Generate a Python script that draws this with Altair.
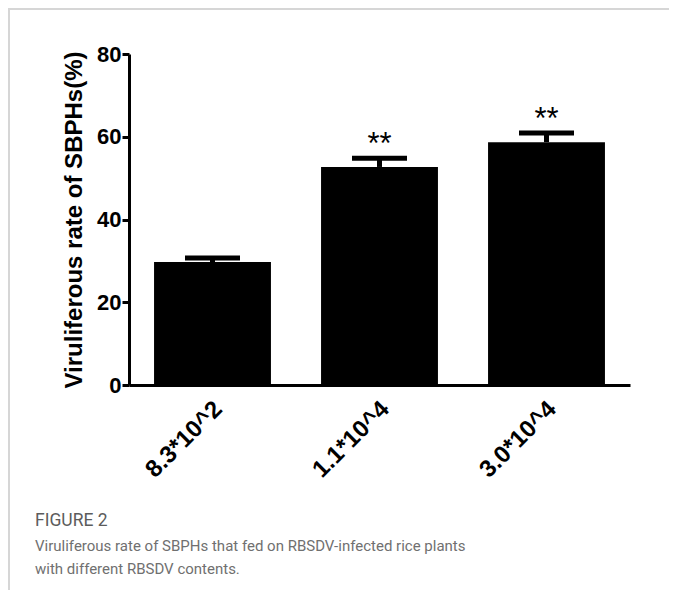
import altair as alt
import pandas as pd

# data
doses = ["8.3*10^2", "1.1*10^4", "3.0*10^4"]
means = [29.7, 52.7, 58.7]
sems = [1.0, 2.1, 2.2]
marks = ["", "**", "**"]
y_ticks = [0, 20, 40, 60, 80]

y_title = "Viruliferous rate of SBPHs(%)"
fig_label = "FIGURE 2"
caption_lines = [
    "Viruliferous rate of SBPHs that fed on RBSDV-infected rice plants",
    "with different RBSDV contents.",
]

df = pd.DataFrame({
    "dose": doses,
    "mean": means,
    "upper": [m + s for m, s in zip(means, sems)],
    "sig": marks,
})

W, H = 501, 331

xenc = alt.X(
    "dose:N",
    sort=doses,
    scale=alt.Scale(paddingInner=0.3, paddingOuter=0.15),
    axis=alt.Axis(
        title="",
        ticks=False,
        tickSize=0,
        domainColor="black",
        domainWidth=3,
        labelAngle=-45,
        labelAlign="right",
        labelBaseline="middle",
        labelFont="Liberation Sans",
        labelFontWeight="bold",
        labelFontSize=24,
        labelColor="black",
        labelPadding=20,
        labelOffset=6,
    ),
)

yscale = alt.Scale(domain=[0, 80], nice=False)
yaxis = alt.Axis(
    title=y_title,
    values=y_ticks,
    grid=False,
    domainColor="black",
    domainWidth=3,
    tickColor="black",
    tickWidth=3,
    tickSize=7,
    labelFont="Liberation Sans",
    labelFontWeight="bold",
    labelFontSize=22,
    labelColor="black",
    labelPadding=1,
    titleFont="Liberation Sans",
    titleFontWeight="bold",
    titleFontSize=24,
    titleColor="black",
    titlePadding=10,
)

base = alt.Chart(df).encode(x=xenc)

bars = base.mark_bar(color="black").encode(
    y=alt.Y("mean:Q", scale=yscale, axis=yaxis)
)
stems = base.mark_rule(color="black", strokeWidth=5).encode(
    y=alt.Y("mean:Q", scale=yscale, axis=yaxis), y2="upper:Q"
)
caps = base.mark_tick(color="black", size=55, thickness=5, opacity=1).encode(
    y=alt.Y("upper:Q", scale=yscale, axis=yaxis)
)
stars = base.mark_text(
    font="Liberation Sans", fontSize=31, color="black", baseline="alphabetic", dy=-4
).encode(y=alt.Y("upper:Q", scale=yscale, axis=yaxis), text="sig:N")

one = pd.DataFrame({"k": [0]})
frame = alt.Chart(one).mark_rect(
    fill="transparent", stroke="#d6d6d6", strokeWidth=2
).encode(
    x=alt.value(-120), x2=alt.value(600), y=alt.value(-45), y2=alt.value(600)
)

fig_text = alt.Chart(pd.DataFrame({"t": [fig_label]})).mark_text(
    font="Roboto", fontSize=17.5, color="#5c5c5c", align="left", baseline="alphabetic"
).encode(x=alt.value(-94), y=alt.value(472), text="t:N")

cap_text = alt.Chart(pd.DataFrame({"t": ["\n".join(caption_lines)]})).mark_text(
    font="Roboto", fontSize=15, color="#707070", align="left",
    baseline="alphabetic", lineBreak="\n", lineHeight=22.5
).encode(x=alt.value(-94), y=alt.value(497), text="t:N")

chart = alt.layer(frame, bars, stems, caps, stars, fig_text, cap_text).properties(
    width=W,
    height=H,
    autosize=alt.AutoSizeParams(type="none"),
    padding={"left": 121, "top": 46, "right": 39, "bottom": 205},
).configure(background="white").configure_view(strokeWidth=0)

chart.save("out.html", embed_options={"renderer": "svg", "actions": False})
